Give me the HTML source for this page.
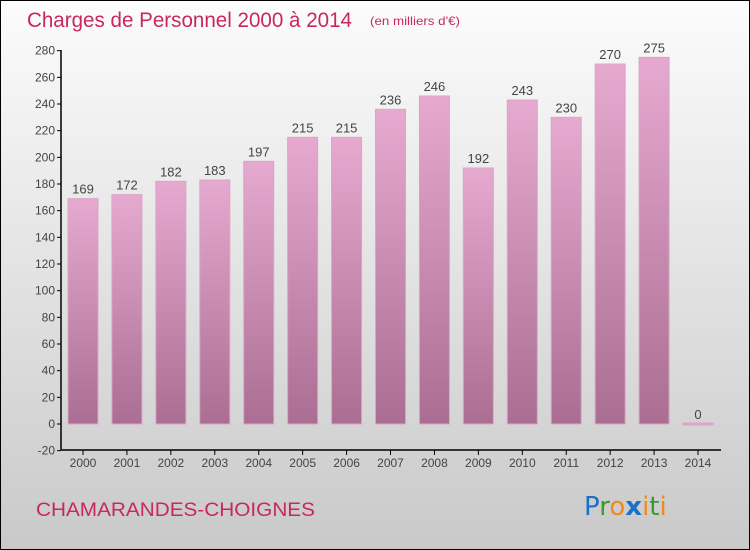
<!DOCTYPE html>
<html><head><meta charset="utf-8"><style>
body{margin:0;}
#wrap{position:relative;width:750px;height:550px;box-sizing:border-box;border:1px solid #000;background:linear-gradient(#fcfcfc,#c9c9c9);font-family:"Liberation Sans",sans-serif;overflow:hidden}
</style></head><body>
<div id="wrap">
<svg id="chart" width="750" height="550" style="position:absolute;left:-1px;top:-1px" font-family="Liberation Sans, sans-serif">
<defs><linearGradient id="bg" x1="0" y1="0" x2="0" y2="1"><stop offset="0" stop-color="#e6a9cf"/><stop offset="1" stop-color="#ab6e93"/></linearGradient></defs>
<text x="27" y="27" font-size="21" fill="#c8285f" textLength="325" lengthAdjust="spacingAndGlyphs">Charges de Personnel 2000 à 2014</text>
<text x="370" y="25" font-size="12" fill="#c8285f" textLength="90" lengthAdjust="spacingAndGlyphs">(en milliers d'€)</text>
<g id="g"></g>
<text x="36" y="516" font-size="19" fill="#c8285f" textLength="279" lengthAdjust="spacingAndGlyphs">CHAMARANDES-CHOIGNES</text>
<g font-size="26" font-family="DejaVu Sans, sans-serif"><text x="584" y="515"><tspan fill="#1a6fc6">P</tspan><tspan fill="#3a9a2a">r</tspan><tspan fill="#f08a1a">o</tspan><tspan fill="#1a6fc6" font-weight="bold">x</tspan><tspan fill="#f08a1a">i</tspan><tspan fill="#3a9a2a">t</tspan><tspan fill="#f08a1a">i</tspan></text></g>
</svg>
<script>
const years=["2000","2001","2002","2003","2004","2005","2006","2007","2008","2009","2010","2011","2012","2013","2014"];
const values=[169,172,182,183,197,215,215,236,246,192,243,230,270,275,0];
const yTicks=[-20,0,20,40,60,80,100,120,140,160,180,200,220,240,260,280];
const NS="http://www.w3.org/2000/svg";
const g=document.getElementById('g');
const y=v=>424-v*(400/300);
const x=i=>83+i*43.93;
function el(t,a,p){const e=document.createElementNS(NS,t);for(const k in a)e.setAttribute(k,a[k]);(p||g).appendChild(e);return e;}
yTicks.forEach(t=>{
 const l=el('line',{x1:57,x2:61,y1:y(t),y2:y(t),stroke:'#000'});
 
 
 const tx=el('text',{x:55,y:y(t)+4,'text-anchor':'end','font-size':12,fill:'#444'});tx.textContent=t;
 
 
});
values.forEach((v,i)=>{
 const h=Math.max(y(0)-y(v),2);
 const r=el('rect',{x:x(i)-15,y:y(v)-(v===0?1:0),width:30,height:h,fill:v===0?'#e0a8cb':'url(#bg)',stroke:'#d9a5c6','stroke-width':1});
 
 
 const t=el('text',{x:x(i),y:y(v)-5,'text-anchor':'middle','font-size':13,fill:'#444'});t.textContent=v;
 
 
 const tk=el('line',{x1:x(i),x2:x(i),y1:450,y2:455,stroke:'#000'});
 
 
 const xl=el('text',{x:x(i),y:467,'text-anchor':'middle','font-size':12,fill:'#444'});xl.textContent=years[i];
 
 
});
const ya=el('line',{x1:61,x2:61,y1:50,y2:450,stroke:'#000','stroke-width':1.5});


const xa=el('line',{x1:61,x2:721,y1:450,y2:450,stroke:'#000','stroke-width':1.5});


</script>
</div>
</body></html>
